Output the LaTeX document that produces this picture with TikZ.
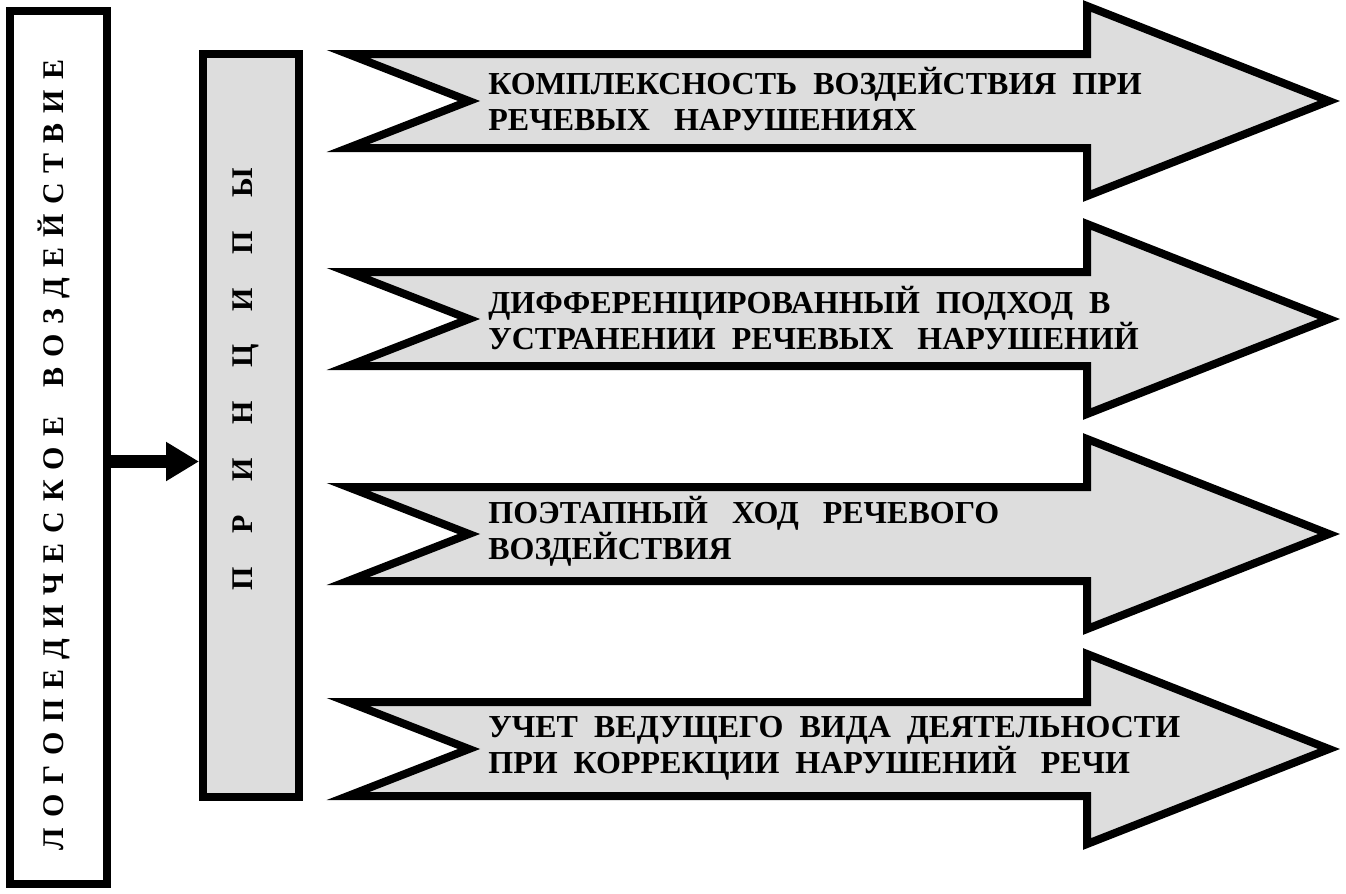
\documentclass[tikz,border=0pt]{standalone}
\usepackage{fontspec}
\setmainfont{Liberation Serif}
\usetikzlibrary{arrows.meta}
\definecolor{boxgray}{RGB}{221,221,221}
\tikzset{
  frame/.style={draw=black, line width=4pt, inner sep=0pt},
  grayframe/.style={frame, fill=boxgray},
  bigarrow/.style={draw=black, line width=4pt, fill=boxgray, line join=miter},
  label/.style={font=\bfseries\fontsize{16}{18}\selectfont, align=left, anchor=west, inner sep=0pt},
  vtext/.style={font=\bfseries\fontsize{15}{18}\selectfont, rotate=90, inner sep=0pt},
  link/.style={line width=6.5pt, -{Triangle[length=16.5pt,width=18.5pt]}}
}
\begin{document}
\begin{tikzpicture}[x=0.5pt,y=-0.5pt]
\useasboundingbox (0,0) rectangle (1346,894);
% left boxes
\node[frame, minimum width=48.5pt, minimum height=436.5pt] (box1) at (58.5,447.5) {};
\node[grayframe, minimum width=48pt, minimum height=371.5pt] (box2) at (251,425.5) {};
\node[vtext] (t1) at (54,455) {\makebox[395pt][s]{Л О Г О П Е Д И Ч Е С К О Е \ \ В О З Д Е Й С Т В И Е}};
\node[vtext] (t2) at (246,379) {\makebox[211pt][s]{П Р И Н Ц И П Ы}};
\draw[link] ([yshift=-7pt]box1.east) -- ([yshift=-7pt]box1.east -| box2.west);
% big arrows
\foreach \cy in {101,319,534,749}{
  \draw[bigarrow] (348,\cy-47) -- (469,\cy) -- (348,\cy+47) -- (1087,\cy+47)
     -- (1087,\cy+95) -- (1329,\cy) -- (1087,\cy-95) -- (1087,\cy-47) -- cycle;
}
\node[label] (p1) at (488,99) {КОМПЛЕКСНОСТЬ \ ВОЗДЕЙСТВИЯ \ ПРИ\\РЕЧЕВЫХ \ \ НАРУШЕНИЯХ};
\node[label] (p2) at (488,318) {ДИФФЕРЕНЦИРОВАННЫЙ\hspace{0.5em}ПОДХОД\hspace{0.5em}В\\УСТРАНЕНИИ \ РЕЧЕВЫХ \ \ НАРУШЕНИЙ};
\node[label] (p3) at (488,531) {ПОЭТАПНЫЙ \ \ ХОД \ \ РЕЧЕВОГО\\ВОЗДЕЙСТВИЯ};
\node[label] (p4) at (488,748) {УЧЕТ \ ВЕДУЩЕГО \ ВИДА \ ДЕЯТЕЛЬНОСТИ\\ПРИ \ КОРРЕКЦИИ \ НАРУШЕНИЙ \ \ РЕЧИ};
\end{tikzpicture}
\end{document}
